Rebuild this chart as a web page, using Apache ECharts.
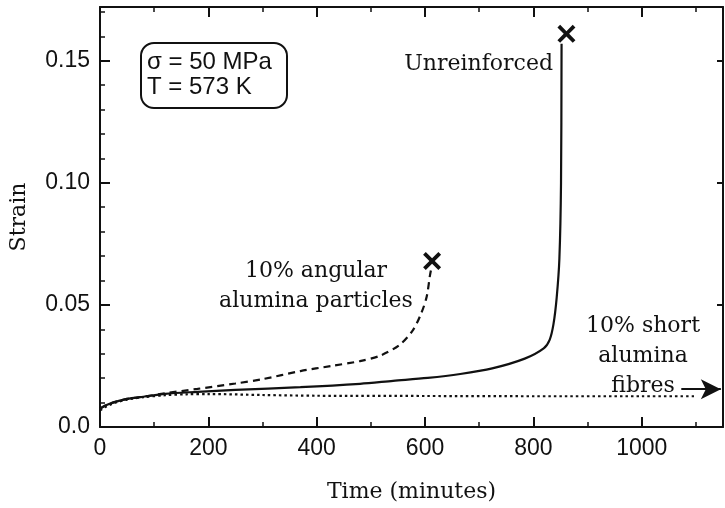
<!DOCTYPE html>
<html>
<head>
<meta charset="utf-8">
<script src="https://cdn.jsdelivr.net/npm/echarts@6/dist/echarts.min.js"></script>
<style>
  html, body { margin: 0; padding: 0; background: #fff; }
  #chart { width: 725px; height: 508px; }
</style>
</head>
<body>
<div id="chart"></div>
<script>
// Creep curves at 50 MPa, 573 K
const unreinforcedTime = [0, 10, 25, 50, 80, 120, 180, 250, 370, 480, 541, 605, 665, 724, 784, 819, 830, 837, 843, 848, 851, 852];
const unreinforcedStrain = [0.0075, 0.0088, 0.0101, 0.0115, 0.0124, 0.0136, 0.0144, 0.0152, 0.0163, 0.0177, 0.0189, 0.0201, 0.0217, 0.0240, 0.0280, 0.0322, 0.0357, 0.0420, 0.0530, 0.0690, 0.1000, 0.1570];

const angularTime = [0, 10, 25, 50, 80, 120, 180, 250, 300, 370, 427, 480, 517, 554, 578, 593, 603, 609, 612];
const angularStrain = [0.0075, 0.0088, 0.0101, 0.0115, 0.0124, 0.0138, 0.0156, 0.0178, 0.0196, 0.0229, 0.0250, 0.0270, 0.0292, 0.0338, 0.0398, 0.0466, 0.0533, 0.0620, 0.0655];

const fibreTime = [0, 10, 25, 50, 80, 120, 160, 200, 300, 400, 600, 800, 1000, 1100];
const fibreStrain = [0.0068, 0.0082, 0.0097, 0.0112, 0.0122, 0.0130, 0.0134, 0.0135, 0.0131, 0.0128, 0.0127, 0.0126, 0.0126, 0.0126];

// Fracture points (time, strain)
const fractureTime = [861, 613];
const fractureStrain = [0.161, 0.068];

// "still running" arrow for the fibre-reinforced test
const arrowTime = [1073, 1146];
const arrowStrain = 0.0155;

const xTickLabels = ['0', '200', '400', '600', '800', '1000'];
const yTickLabels = ['0.0', '0.05', '0.10', '0.15'];

const zip = (xs, ys) => xs.map((x, i) => [x, ys[i]]);

const SANS = 'Liberation Sans';
const SERIF = 'DejaVu Serif';
const INK = '#111';

const crossPath = 'path://M0,3 L3,0 L10,7 L17,0 L20,3 L13,10 L20,17 L17,20 L10,13 L3,20 L0,17 L7,10 Z';

const chart = echarts.init(document.getElementById('chart'), null, { renderer: 'canvas' });

const baseX = { type: 'value', min: 0, max: 1150, gridIndex: 0, offset: 0,
  splitLine: { show: false }, axisLine: { onZero: false, show: false } };
const baseY = { type: 'value', min: 0, max: 0.172, gridIndex: 0, offset: 0,
  splitLine: { show: false }, axisLine: { onZero: false, show: false } };

chart.setOption({
  animation: false,
  backgroundColor: '#fff',
  grid: { left: 100, right: 2, top: 7, bottom: 76, containLabel: false },
  xAxis: [
    Object.assign({}, baseX, {
      position: 'bottom', interval: 200,
      name: 'Time (minutes)', nameLocation: 'middle', nameGap: 54,
      nameTextStyle: { fontFamily: SERIF, fontSize: 22, color: INK },
      axisLine: { show: true, onZero: false, lineStyle: { color: INK, width: 2 } },
      axisTick: { show: true, inside: true, length: 10, lineStyle: { color: INK, width: 2 } },
      axisLabel: {
        show: true, margin: 10, fontFamily: SANS, fontSize: 23, color: INK,
        showMaxLabel: false,
        formatter: v => { const i = Math.round(v / 200); return (Math.abs(v - i * 200) < 1e-6 && i < xTickLabels.length) ? xTickLabels[i] : ''; }
      }
    }),
    Object.assign({}, baseX, {
      position: 'bottom', interval: 100,
      axisTick: { show: true, inside: true, length: 5, lineStyle: { color: INK, width: 1.5 } },
      axisLabel: { show: false }
    }),
    Object.assign({}, baseX, {
      position: 'top', interval: 200,
      axisLine: { show: true, onZero: false, lineStyle: { color: INK, width: 2 } },
      axisTick: { show: true, inside: true, length: 10, lineStyle: { color: INK, width: 2 } },
      axisLabel: { show: false }
    }),
    Object.assign({}, baseX, {
      position: 'top', interval: 100,
      axisTick: { show: true, inside: true, length: 5, lineStyle: { color: INK, width: 1.5 } },
      axisLabel: { show: false }
    })
  ],
  yAxis: [
    Object.assign({}, baseY, {
      position: 'left', interval: 0.05,
      name: 'Strain', nameLocation: 'middle', nameGap: 70, nameRotate: 90,
      nameTextStyle: { fontFamily: SERIF, fontSize: 22, color: INK },
      axisLine: { show: true, onZero: false, lineStyle: { color: INK, width: 2 } },
      axisTick: { show: true, inside: true, length: 10, lineStyle: { color: INK, width: 2 } },
      axisLabel: {
        show: true, margin: 10, fontFamily: SANS, fontSize: 23, color: INK,
        showMaxLabel: false,
        formatter: v => { const i = Math.round(v / 0.05); return (Math.abs(v - i * 0.05) < 1e-6 && i < yTickLabels.length) ? yTickLabels[i] : ''; }
      }
    }),
    Object.assign({}, baseY, {
      position: 'left', interval: 0.01,
      axisTick: { show: true, inside: true, length: 5, lineStyle: { color: INK, width: 1.5 } },
      axisLabel: { show: false }
    }),
    Object.assign({}, baseY, {
      position: 'right', interval: 0.05,
      axisLine: { show: true, onZero: false, lineStyle: { color: INK, width: 2 } },
      axisTick: { show: true, inside: true, length: 6, lineStyle: { color: INK, width: 2 } },
      axisLabel: { show: false }
    })
  ],
  series: [
    {
      name: 'Unreinforced', type: 'line', xAxisIndex: 0, yAxisIndex: 0,
      data: zip(unreinforcedTime, unreinforcedStrain),
      showSymbol: false, smooth: 0.3,
      lineStyle: { color: INK, width: 2.2 }
    },
    {
      name: '10% angular alumina particles', type: 'line', xAxisIndex: 0, yAxisIndex: 0,
      data: zip(angularTime, angularStrain),
      showSymbol: false, smooth: 0.3,
      lineStyle: { color: INK, width: 2.2, type: [7, 5] }
    },
    {
      name: '10% short alumina fibres', type: 'line', xAxisIndex: 0, yAxisIndex: 0,
      data: zip(fibreTime, fibreStrain),
      showSymbol: false, smooth: 0.3,
      lineStyle: { color: INK, width: 2.2, type: [2.5, 3] },
      markLine: {
        silent: true, animation: false,
        symbol: ['none', 'arrow'], symbolSize: [15, 20],
        label: { show: false },
        lineStyle: { color: INK, width: 2, type: 'solid' },
        data: [[{ coord: [arrowTime[0], arrowStrain] }, { coord: [arrowTime[1], arrowStrain] }]]
      }
    },
    {
      name: 'Fracture', type: 'scatter', xAxisIndex: 0, yAxisIndex: 0,
      data: zip(fractureTime, fractureStrain),
      symbol: crossPath, symbolSize: 18,
      itemStyle: { color: INK, opacity: 1 }
    }
  ],
  graphic: [
    {
      type: 'rect', left: 140, top: 42,
      shape: { width: 146, height: 65, r: 13 },
      style: { fill: '#fff', stroke: INK, lineWidth: 2 }
    },
    {
      type: 'text', left: 147, top: 50,
      style: { text: 'σ = 50 MPa', font: '24px "Liberation Sans"', fill: INK }
    },
    {
      type: 'text', left: 147, top: 75,
      style: { text: 'T = 573 K', font: '24px "Liberation Sans"', fill: INK }
    },
    {
      type: 'text', x: 553, y: 53,
      style: { text: 'Unreinforced', font: '22px "DejaVu Serif"', fill: INK, align: 'right', verticalAlign: 'top' }
    },
    {
      type: 'text', x: 316, y: 256,
      style: { text: '10% angular\nalumina particles', font: '22px "DejaVu Serif"', fill: INK,
        align: 'center', verticalAlign: 'top', lineHeight: 30 }
    },
    {
      type: 'text', x: 643, y: 311,
      style: { text: '10% short\nalumina\nfibres', font: '22px "DejaVu Serif"', fill: INK,
        align: 'center', verticalAlign: 'top', lineHeight: 30 }
    }
  ]
});
</script>
</body>
</html>
